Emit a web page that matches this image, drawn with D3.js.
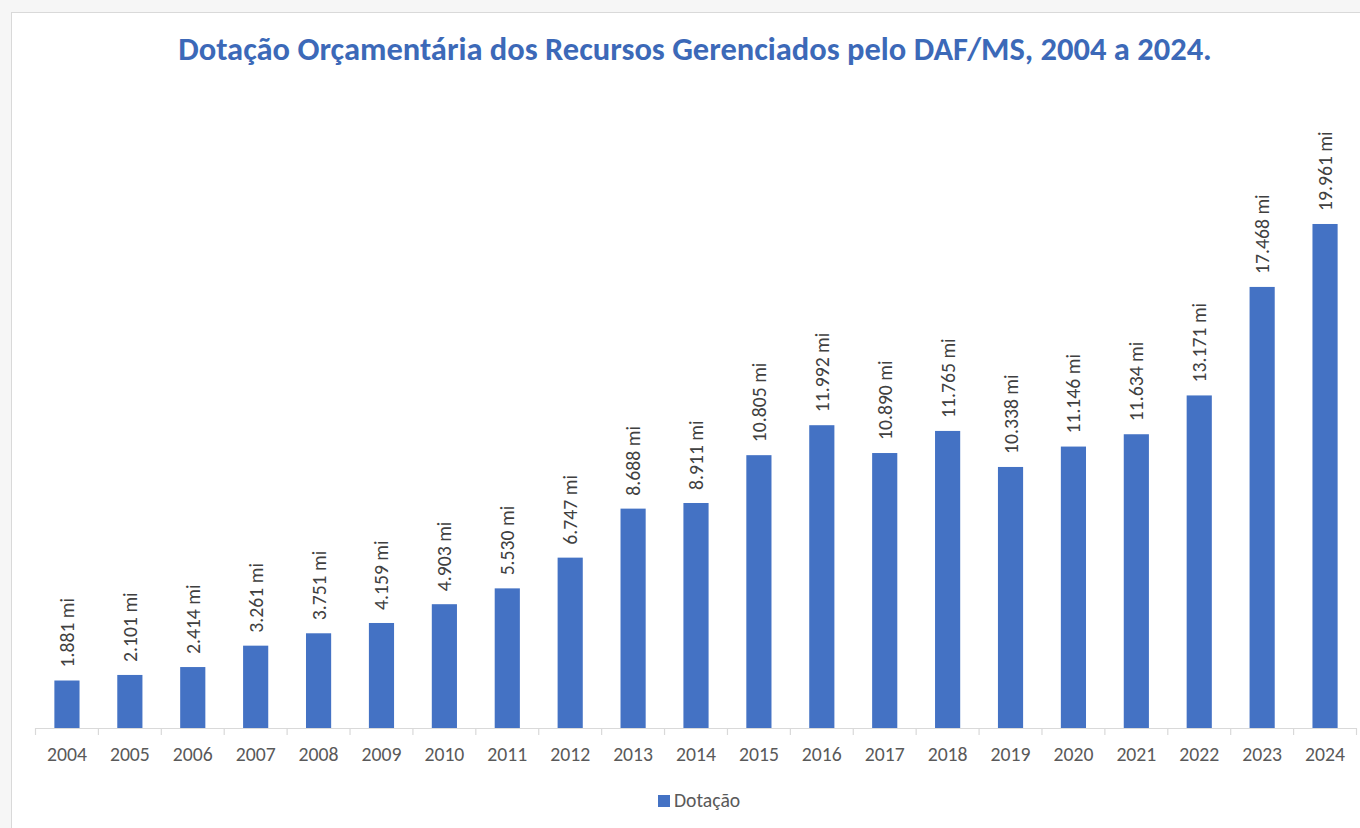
<!DOCTYPE html>
<html><head><meta charset="utf-8">
<script src="https://cdn.jsdelivr.net/npm/d3@7"></script>
<style>
html,body{margin:0;padding:0;background:#f7f7f7;}
svg{display:block;}
</style></head>
<body>
<svg id="c" width="1360" height="828"></svg>
<script>
const years = ["2004","2005","2006","2007","2008","2009","2010","2011","2012","2013","2014","2015","2016","2017","2018","2019","2020","2021","2022","2023","2024"];
const dotacao = [1.881,2.101,2.414,3.261,3.751,4.159,4.903,5.530,6.747,8.688,8.911,10.805,11.992,10.890,11.765,10.338,11.146,11.634,13.171,17.468,19.961];
const labels = ["1.881 mi","2.101 mi","2.414 mi","3.261 mi","3.751 mi","4.159 mi","4.903 mi","5.530 mi","6.747 mi","8.688 mi","8.911 mi","10.805 mi","11.992 mi","10.890 mi","11.765 mi","10.338 mi","11.146 mi","11.634 mi","13.171 mi","17.468 mi","19.961 mi"];
const seriesName = "Dotação";
const title = "Dotação Orçamentária dos Recursos Gerenciados pelo DAF/MS, 2004 a 2024.";

const svg = d3.select("#c");
const font = "Carlito, Calibri, Lato, 'Open Sans', sans-serif";

// background panel
svg.append("rect").attr("x",0).attr("y",0).attr("width",1360).attr("height",828).attr("fill","#f6f6f6");
svg.append("rect").attr("x",11.5).attr("y",12.5).attr("width",1360).attr("height",830)
  .attr("fill","#ffffff").attr("stroke","#d9d9d9").attr("stroke-width",1);

const x = d3.scaleBand().domain(years).range([35.5,1356.5]).paddingInner(0.6).paddingOuter(0.3);
const y = d3.scaleLinear().domain([0,20]).range([728,223]);

svg.append("text").attr("x",695).attr("y",60).attr("text-anchor","middle")
  .attr("font-family",font).attr("font-weight","bold").attr("font-size",32.5)
  .attr("fill","#3c69b8").text(title);

// bars
svg.append("g").selectAll("rect").data(dotacao).join("rect")
  .attr("x",(d,i)=>x(years[i]))
  .attr("y",d=>y(d))
  .attr("width",x.bandwidth())
  .attr("height",d=>y(0)-y(d))
  .attr("fill","#4472c4");

// axis
const axis = d3.axisBottom(x).tickSize(0);
const gx = svg.append("g").attr("transform","translate(0,728)").call(axis);
gx.select(".domain").attr("stroke","#d9d9d9").attr("stroke-width",1.2);
gx.selectAll("text").attr("dy",null).attr("y",33).attr("font-family",font).attr("font-size",19.7).attr("fill","#595959");
// category boundary ticks
const step = x.step();
const bounds = years.map(yv=>x(yv)+x.bandwidth()/2-step/2).concat([x(years[years.length-1])+x.bandwidth()/2+step/2]);
gx.selectAll(".bt").data(bounds).join("line").attr("class","bt")
  .attr("x1",d=>d).attr("x2",d=>d).attr("y1",0).attr("y2",7)
  .attr("stroke","#d9d9d9").attr("stroke-width",1.2);

// value labels
svg.append("g").selectAll("text").data(dotacao).join("text")
  .attr("transform",(d,i)=>`translate(${x(years[i])+x.bandwidth()/2+7},${y(d)-13}) rotate(-90)`)
  .attr("font-family",font).attr("font-size",19.7).attr("fill","#404040")
  .text((d,i)=>labels[i]);

// legend
svg.append("rect").attr("x",658).attr("y",795).attr("width",12).attr("height",12).attr("fill","#4472c4");
svg.append("text").attr("x",674).attr("y",807).attr("font-family",font).attr("font-size",19.7)
  .attr("fill","#595959").text(seriesName);
</script>
</body></html>
